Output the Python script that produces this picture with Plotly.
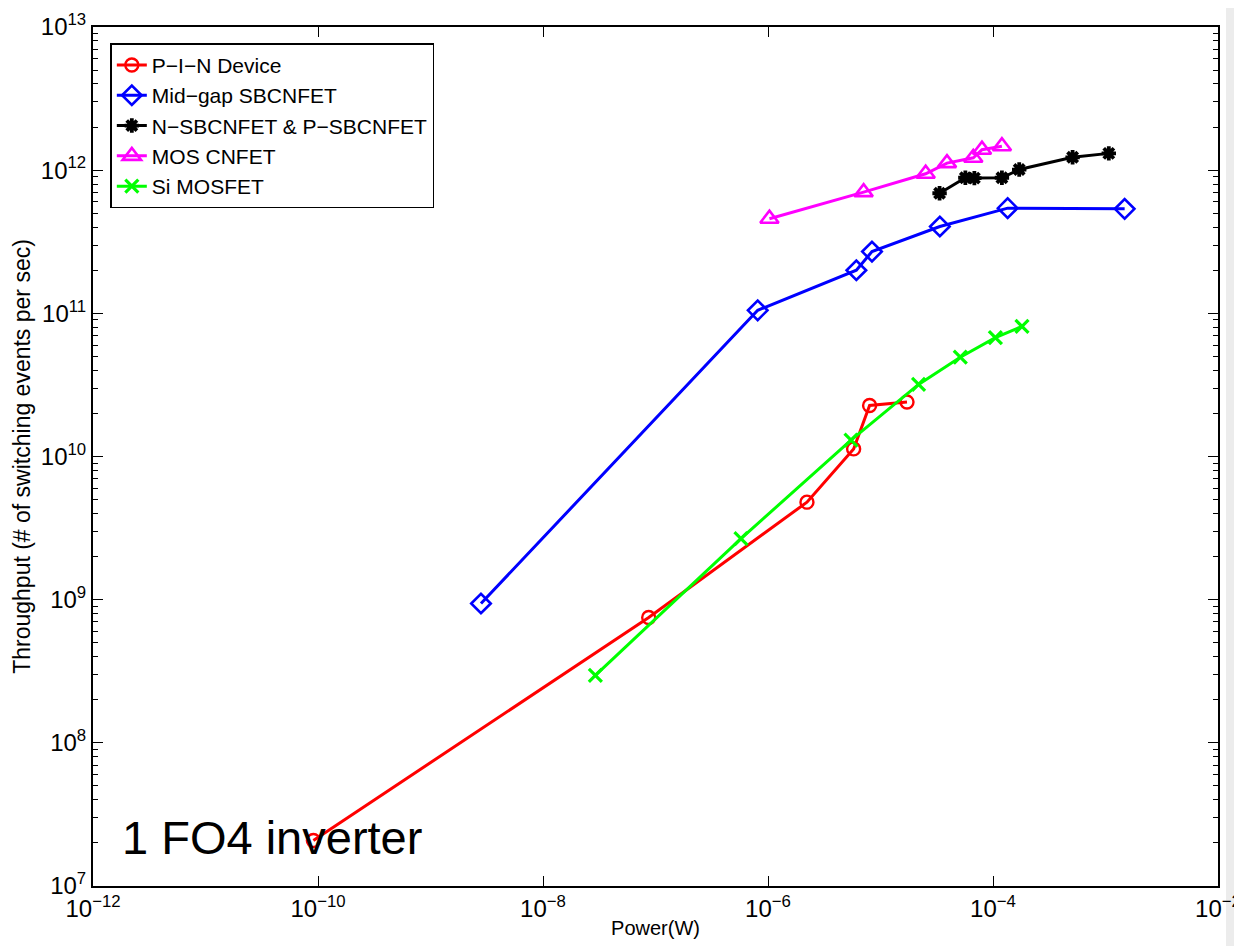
import plotly.graph_objects as go

# ---- data ----
pin_x = [9.1e-11, 8.7e-8, 2.22e-6, 5.77e-6, 8.0e-6, 1.72e-5]
pin_y = [2.08e7, 7.5e8, 4.8e9, 1.13e10, 2.27e10, 2.40e10]

mid_x = [2.81e-9, 8.1e-7, 6.1e-6, 8.4e-6, 3.37e-5, 1.35e-4, 1.48e-3]
mid_y = [9.4e8, 1.05e11, 2.0e11, 2.70e11, 4.04e11, 5.43e11, 5.37e11]

np_x = [3.35e-5, 5.68e-5, 6.83e-5, 1.2e-4, 1.71e-4, 5.1e-4, 1.07e-3]
np_y = [6.9e11, 8.85e11, 8.8e11, 8.85e11, 1.01e12, 1.23e12, 1.31e12]

mos_x = [1.03e-6, 7.08e-6, 2.52e-5, 3.9e-5, 6.68e-5, 7.98e-5, 1.2e-4]
mos_y = [4.58e11, 7.02e11, 9.44e11, 1.12e12, 1.22e12, 1.39e12, 1.47e12]

si_x = [2.92e-8, 5.75e-7, 5.47e-6, 2.18e-5, 5.12e-5, 1.05e-4, 1.81e-4]
si_y = [2.96e8, 2.67e9, 1.30e10, 3.19e10, 4.94e10, 6.76e10, 8.1e10]

x_tick_vals = [1e-12, 1e-10, 1e-8, 1e-6, 1e-4, 1e-2]
x_tick_text = ["10<sup>\u221212</sup>", "10<sup>\u221210</sup>", "10<sup>\u22128</sup>",
               "10<sup>\u22126</sup>", "10<sup>\u22124</sup>", "10<sup>\u22122</sup>"]
y_tick_vals = [1e7, 1e8, 1e9, 1e10, 1e11, 1e12, 1e13]
y_tick_text = ["10<sup>7</sup>", "10<sup>8</sup>", "10<sup>9</sup>", "10<sup>10</sup>",
               "10<sup>11</sup>", "10<sup>12</sup>", "10<sup>13</sup>"]

FONT = "Liberation Sans, Arial, Helvetica, sans-serif"

series = [
    ("P\u2212I\u2212N Device", pin_x, pin_y, "#FF0000", "circle-open", 13, 2.4),
    ("Mid\u2212gap SBCNFET", mid_x, mid_y, "#0000FF", "diamond-open", 15, 2.6),
    ("N\u2212SBCNFET & P\u2212SBCNFET", np_x, np_y, "#000000", "asterisk-open", 12, 3.8),
    ("MOS CNFET", mos_x, mos_y, "#FF00FF", "triangle-up-open", 16, 2.6),
    ("Si MOSFET", si_x, si_y, "#00FF00", "x-thin-open", 13, 3.2),
]

fig = go.Figure()
for name, xs, ys, col, sym, sz, lw in series:
    fig.add_trace(go.Scatter(
        x=xs, y=ys, name=name, mode="lines+markers",
        line=dict(color=col, width=3),
        marker=dict(symbol=sym, size=sz, color=col, line=dict(color=col, width=lw)),
    ))

minor_y = [k * 10 ** n for n in range(7, 13) for k in range(2, 10)]

axis_common = dict(
    type="log", showgrid=False, zeroline=False, showline=True, linecolor="black",
    linewidth=2, mirror="ticks", ticks="inside", tickcolor="black", tickwidth=1,
    tickfont=dict(family=FONT, size=24, color="black"), automargin=False,
)

fig.update_xaxes(
    **axis_common, range=[-12, -2], tickmode="array", tickvals=x_tick_vals,
    ticktext=x_tick_text, ticklen=10,
    title=dict(text="Power(W)", font=dict(family=FONT, size=20, color="black"), standoff=0),
)
fig.update_yaxes(
    **axis_common, range=[7, 13], tickmode="array", tickvals=y_tick_vals,
    ticktext=y_tick_text, ticklen=10,
    minor=dict(tickmode="array", tickvals=minor_y, ticks="inside", ticklen=5,
               tickcolor="black", tickwidth=1, showgrid=False),
    title=dict(text="Throughput (# of switching events per sec)",
               font=dict(family=FONT, size=23, color="black"), standoff=4),
)

fig.add_annotation(
    text="1 FO4 inverter", xref="paper", yref="paper", x=0.024, y=0.023,
    xanchor="left", yanchor="bottom", showarrow=False,
    font=dict(family=FONT, size=47, color="black"),
)

# light gray strip at the right edge of the reference screenshot
fig.add_shape(type="rect", xref="paper", yref="paper", x0=1.0071, x1=1.03, y0=-0.1, y1=1.04,
              fillcolor="#ececec", line=dict(width=0), layer="below")

fig.update_layout(
    width=1234, height=938,
    margin=dict(l=85, r=24, t=19, b=60),
    paper_bgcolor="white", plot_bgcolor="white",
    font=dict(family=FONT, color="black"),
    legend=dict(
        x=0.0154, y=0.981, xanchor="left", yanchor="top",
        bgcolor="white", bordercolor="black", borderwidth=1.5,
        font=dict(family=FONT, size=21, color="black"),
        tracegroupgap=0, itemwidth=30,
        entrywidthmode="pixels", entrywidth=335,
    ),
)

fig.write_html("out.html")
